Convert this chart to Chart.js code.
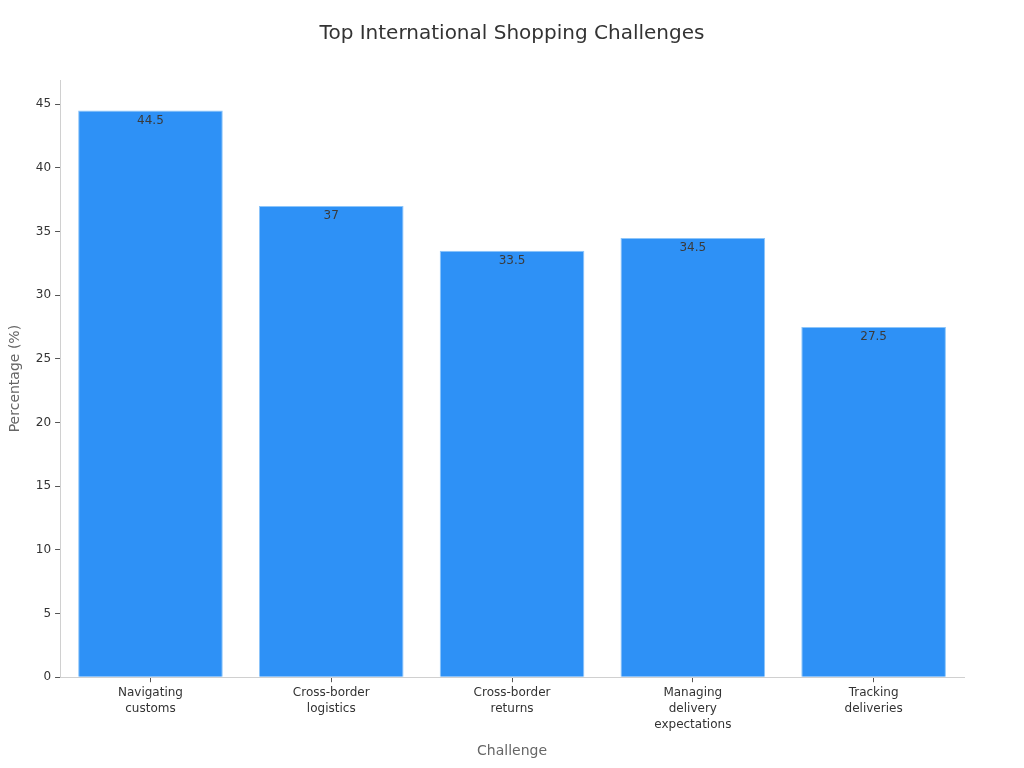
<!DOCTYPE html>
<html>
<head>
<meta charset="utf-8">
<script src="https://cdn.jsdelivr.net/npm/chart.js@4/dist/chart.umd.min.js"></script>
<style>
  html, body { margin: 0; padding: 0; background: #fff; }
  #wrap { width: 1024px; height: 768px; }
</style>
</head>
<body>
<div id="wrap"><canvas id="chart" width="1024" height="768"></canvas></div>
<script>
const titulo = 'Top International Shopping Challenges';
const categorias = [
  ['Navigating', 'customs'],
  ['Cross-border', 'logistics'],
  ['Cross-border', 'returns'],
  ['Managing', 'delivery', 'expectations'],
  ['Tracking', 'deliveries']
];
const porcentajes = [44.5, 37, 33.5, 34.5, 27.5];
const yTicks = [0, 5, 10, 15, 20, 25, 30, 35, 40, 45];

// etiquetas de valor dentro de la barra + titulo centrado en el lienzo
const etiquetas = {
  id: 'etiquetas',
  afterDatasetsDraw(chart) {
    const ctx = chart.ctx;
    const meta = chart.getDatasetMeta(0);
    ctx.save();
    ctx.font = '12px "DejaVu Sans"';
    ctx.fillStyle = '#3a3a3a';
    ctx.textAlign = 'center';
    ctx.textBaseline = 'middle';
    meta.data.forEach(function(bar, i){
      ctx.fillText(String(porcentajes[i]), bar.x, bar.y + 10);
    });
    ctx.font = '20px "DejaVu Sans"';
    ctx.fillStyle = '#333';
    ctx.fillText(titulo, chart.width / 2, 34);
    ctx.restore();
  }
};

Chart.defaults.font.family = '"DejaVu Sans", sans-serif';

new Chart(document.getElementById('chart'), {
  type: 'bar',
  data: {
    labels: categorias,
    datasets: [{
      label: 'Percentage (%)',
      data: porcentajes,
      backgroundColor: '#2e91f6',
      borderColor: '#8cc5fa',
      borderWidth: 1,
      barPercentage: 0.8,
      categoryPercentage: 1
    }]
  },
  options: {
    responsive: false,
    animation: false,
    layout: { padding: { top: 80, right: 60, left: 3, bottom: 4 } },
    plugins: {
      legend: { display: false },
      tooltip: { enabled: false },
      title: { display: false }
    },
    scales: {
      x: {
        border: { color: '#d0d0d0' },
        grid: { offset: false, drawOnChartArea: false, drawTicks: true, tickLength: 5, color: '#555' },
        ticks: { color: '#333', font: { size: 12, lineHeight: 1.333 }, padding: 3 },
        title: { display: true, text: 'Challenge', color: '#666', font: { size: 14 }, padding: { top: 7 } }
      },
      y: {
        min: 0,
        max: 46.9,
        border: { color: '#d0d0d0' },
        grid: { drawOnChartArea: false, drawTicks: true, tickLength: 5, color: '#555' },
        afterBuildTicks(scale) {
          scale.ticks = yTicks.map(v => ({ value: v }));
        },
        ticks: { color: '#333', font: { size: 12 }, padding: 4 },
        title: { display: true, text: 'Percentage (%)', color: '#666', font: { size: 14 }, padding: { bottom: 8 } }
      }
    }
  },
  plugins: [etiquetas]
});
</script>
</body>
</html>
